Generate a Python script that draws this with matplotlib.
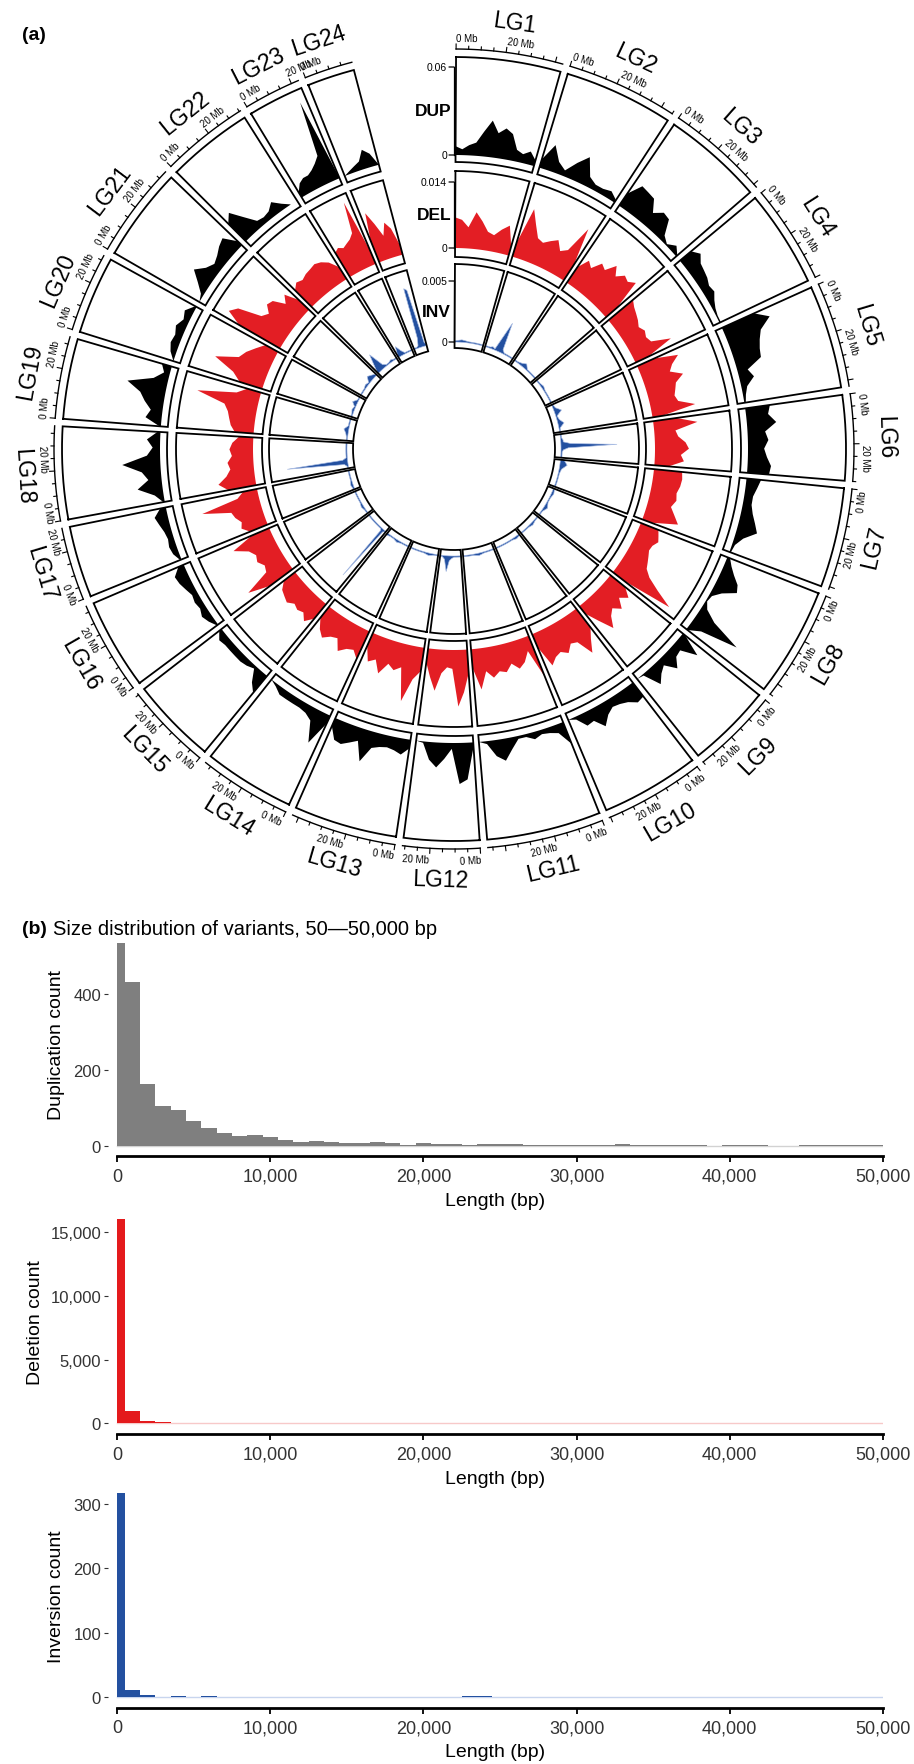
import numpy as np
import matplotlib.pyplot as plt
from matplotlib.ticker import FuncFormatter

plt.rcParams['font.family'] = ['Liberation Sans', 'DejaVu Sans']
NARROW = ['Liberation Sans Narrow', 'Liberation Sans', 'DejaVu Sans']

# ---------------- circos data (a) ----------------
chrom_names = ['LG1', 'LG2', 'LG3', 'LG4', 'LG5', 'LG6', 'LG7', 'LG8', 'LG9', 'LG10', 'LG11', 'LG12',
               'LG13', 'LG14', 'LG15', 'LG16', 'LG17', 'LG18', 'LG19', 'LG20', 'LG21', 'LG22', 'LG23', 'LG24']
chrom_len_mb = [43, 45, 41.5, 40, 42.5, 35, 41, 45, 35, 40.5, 47, 31,
                42.5, 37.5, 35.5, 37.5, 29.5, 38, 33, 32, 38.5, 35.5, 23, 19.5]

# densities along each chromosome (evenly spaced windows, start -> end)
dup_density = [
    [0.006, 0.004, 0.007, 0.009, 0.017, 0.025, 0.017, 0.021, 0.018, 0.008, 0.006, 0.009, 0.004],
    [0.006, 0.018, 0.008, 0.004, 0.012, 0.019, 0.007, 0.004, 0.004, 0.0055, 0.002],
    [0.010, 0.020, 0.019, 0.018, 0.010, 0.015, 0.014, 0.004, 0.001, 0.005, 0.001],
    [0.010, 0.014, 0.010, 0.009, 0.008, 0.006, 0.007, 0.004, 0.002, 0.001, 0.001],
    [0.024, 0.033, 0.024, 0.021, 0.019, 0.018, 0.007, 0.010, 0.004, 0.002, 0.001],
    [0.017, 0.015, 0.020, 0.012, 0.014, 0.011, 0.013, 0.016, 0.015],
    [0.010, 0.008, 0.006, 0.006, 0.008, 0.011, 0.014, 0.006, 0.002, 0.001],
    [0.002, 0.005, 0.009, 0.014, 0.016, 0.007, 0.002, 0.001, 0.004, 0.013, 0.035, 0.009, 0.001],
    [0.002, 0.017, 0.006, 0.007, 0.013, 0.005, 0.008, 0.013, 0.001, 0.0],
    [0.012, 0.013, 0.009, 0.007, 0.006, 0.009, 0.015, 0.008, 0.009, 0.002, 0.0],
    [0.016, 0.006, 0.004, 0.003, 0.005, 0.002, 0.002, 0.008, 0.015, 0.011, 0.002, 0.0],
    [0.003, 0.025, 0.028, 0.004, 0.011, 0.017, 0.012, 0.001, 0.0],
    [0.006, 0.011, 0.009, 0.008, 0.009, 0.011, 0.022, 0.009, 0.012, 0.015, 0.014, 0.006],
    [0.006, 0.023, 0.009, 0.006, 0.005, 0.005, 0.005, 0.005, 0.002, 0.0],
    [0.015, 0.010, 0.002, 0.004, 0.005, 0.005, 0.005, 0.005, 0.006, 0.002],
    [0.001, 0.004, 0.006, 0.004, 0.005, 0.004, 0.006, 0.008, 0.009, 0.004],
    [0.001, 0.004, 0.005, 0.004, 0.005, 0.007, 0.009, 0.004],
    [0.001, 0.006, 0.017, 0.009, 0.013, 0.026, 0.009, 0.005, 0.009, 0.002],
    [0.001, 0.011, 0.008, 0.013, 0.017, 0.027, 0.010, 0.004, 0.007],
    [0.0, 0.004, 0.006, 0.005, 0.007, 0.004, 0.006, 0.001],
    [0.0, 0.002, 0.008, 0.015, 0.009, 0.006, 0.008, 0.011, 0.013, 0.004],
    [0.017, 0.022, 0.013, 0.005, 0.004, 0.005, 0.009, 0.004, 0.0, 0.0],
    [0.004, 0.009, 0.011, 0.011, 0.013, 0.016, 0.020, 0.058, 0.002],
    [0.0, 0.002, 0.004, 0.006, 0.013, 0.009, 0.0],
]

del_density = [
    [0.0065, 0.006, 0.0045, 0.0078, 0.006, 0.004, 0.0035, 0.005, 0.0062, 0.002],
    [0.003, 0.011, 0.008, 0.0055, 0.005, 0.006, 0.0069, 0.005, 0.006, 0.012, 0.004],
    [0.004, 0.0065, 0.0055, 0.0077, 0.007, 0.0093, 0.0075, 0.009, 0.0085, 0.0096, 0.003],
    [0.0068, 0.006, 0.0055, 0.005, 0.0043, 0.005, 0.0045, 0.005, 0.009, 0.003],
    [0.004, 0.0089, 0.007, 0.006, 0.0085, 0.0065, 0.006, 0.0055, 0.006, 0.0094, 0.002],
    [0.005, 0.0093, 0.0045, 0.005, 0.0065, 0.0072, 0.0055, 0.0062, 0.003],
    [0.006, 0.0062, 0.006, 0.0055, 0.0058, 0.005, 0.0062, 0.0075, 0.002],
    [0.004, 0.0045, 0.005, 0.0042, 0.004, 0.0045, 0.005, 0.0055, 0.007, 0.010, 0.014, 0.003],
    [0.004, 0.006, 0.0045, 0.0065, 0.005, 0.006, 0.0082, 0.005, 0.002],
    [0.005, 0.007, 0.0096, 0.006, 0.0055, 0.007, 0.006, 0.0065, 0.0078, 0.003],
    [0.0095, 0.003, 0.005, 0.006, 0.0045, 0.006, 0.0055, 0.0066, 0.005, 0.0087, 0.004],
    [0.005, 0.009, 0.012, 0.004, 0.0037, 0.005, 0.0088, 0.006, 0.003],
    [0.005, 0.007, 0.012, 0.005, 0.006, 0.005, 0.0076, 0.005, 0.006, 0.003],
    [0.0065, 0.005, 0.0055, 0.0068, 0.0045, 0.005, 0.0062, 0.005, 0.003],
    [0.004, 0.0058, 0.0045, 0.005, 0.0045, 0.0055, 0.005, 0.0045, 0.003],
    [0.006, 0.0106, 0.005, 0.0045, 0.0055, 0.005, 0.006, 0.0089, 0.004],
    [0.004, 0.0055, 0.005, 0.006, 0.0065, 0.0125, 0.0045, 0.003],
    [0.006, 0.0079, 0.006, 0.005, 0.0055, 0.0045, 0.005, 0.0044, 0.003],
    [0.004, 0.005, 0.0055, 0.006, 0.007, 0.0132, 0.005, 0.003],
    [0.005, 0.007, 0.0117, 0.007, 0.006, 0.0045, 0.003],
    [0.010, 0.0134, 0.012, 0.007, 0.006, 0.0075, 0.007, 0.0045, 0.006, 0.003],
    [0.005, 0.006, 0.0055, 0.006, 0.0062, 0.0065, 0.006, 0.005, 0.003],
    [0.006, 0.0066, 0.006, 0.0065, 0.007, 0.008, 0.0146, 0.003],
    [0.005, 0.0108, 0.008, 0.005, 0.0076, 0.006, 0.002],
]

inv_density = [
    [0.0001, 0.0002, 0.0001, 0.0001, 0.0001],
    [0.0001, 0.0001, 0.0001, 0.0002, 0.0001, 0.0012, 0.0026, 0.0003, 0.0001, 0.0001, 0.0001, 0.0001, 0.0001],
    [0.0001, 0.0001, 0.0002, 0.0004, 0.0001, 0.0001, 0.0001, 0.0001],
    [0.0001, 0.0001, 0.0002, 0.0001, 0.0001, 0.0001, 0.0001],
    [0.0001, 0.0002, 0.0006, 0.0001, 0.0002, 0.0005, 0.0001, 0.0001],
    [0.0001, 0.0001, 0.0001, 0.0002, 0.0002, 0.0008, 0.0046, 0.0006, 0.0002, 0.0001, 0.0001, 0.0001, 0.0001],
    [0.0003, 0.0006, 0.0002, 0.0001, 0.0001, 0.0001, 0.0001],
    [0.0001, 0.0002, 0.0001, 0.0001, 0.0003, 0.0001, 0.0001],
    [0.0001, 0.0001, 0.0002, 0.0001, 0.0001, 0.0001],
    [0.0001, 0.0002, 0.0001, 0.0001, 0.0001, 0.0001, 0.0001],
    [0.0001, 0.0001, 0.0001, 0.0002, 0.0001, 0.0001, 0.0001],
    [0.0001, 0.0001, 0.0001, 0.0001, 0.0002, 0.0004, 0.0013, 0.0003, 0.0001, 0.0001],
    [0.0001, 0.0001, 0.0002, 0.0001, 0.0001, 0.0001, 0.0001],
    [0.0001, 0.0001, 0.0001, 0.0002, 0.0001, 0.0001, 0.0002],
    [0.0001, 0.0001, 0.0002, 0.005, 0.0002, 0.0001, 0.0001, 0.0001, 0.0001, 0.0001, 0.0001,
     0.0001, 0.0001, 0.0001, 0.0001, 0.0001, 0.0001, 0.0001, 0.0001, 0.0001, 0.0001],
    [0.0001, 0.0001, 0.0002, 0.0001, 0.0001, 0.0001, 0.0001],
    [0.0001, 0.0002, 0.0001, 0.0001, 0.0001],
    [0.0001, 0.0001, 0.0003, 0.005, 0.0004, 0.0001, 0.0001, 0.0001, 0.0001, 0.0001, 0.0001, 0.0001, 0.0001],
    [0.0001, 0.0001, 0.0002, 0.0004, 0.0001, 0.0001, 0.0001],
    [0.0001, 0.0001, 0.0002, 0.0001, 0.0004, 0.0001, 0.0001],
    [0.0001, 0.0001, 0.0001, 0.0002, 0.0001, 0.0005, 0.0003, 0.0001],
    [0.0001, 0.0008, 0.0016, 0.0003, 0.0001, 0.0001, 0.0002, 0.0001, 0.0001],
    [0.0001, 0.0009, 0.0004, 0.0001, 0.0001, 0.0001, 0.0001],
    [0.0001, 0.0001, 0.0001, 0.0002, 0.0008, 0.005, 0.0048, 0.0003, 0.0001],
]

# ---------------- size distribution data (b) ----------------
bin_center_bp = np.arange(0, 50001, 1000)
dup_counts = [535, 432, 163, 104, 95, 66, 48, 35, 25, 28, 22, 15, 10, 12, 11, 7, 7, 11, 7, 3,
              8, 4, 4, 3, 4, 4, 4, 2, 2, 2, 2, 1, 2, 5, 3, 3, 3, 2, 2, 0,
              2, 2, 1, 0, 0, 1, 1, 2, 1, 3, 3]
del_counts = [16000, 950, 210, 80, 60, 45, 35, 30, 25, 20, 22, 18, 15, 15, 12, 10, 8, 8, 7, 6,
              10, 6, 5, 5, 4, 4, 4, 3, 3, 3, 3, 3, 2, 2, 2, 2, 2, 2, 2, 2,
              2, 1, 1, 1, 1, 1, 1, 1, 1, 1, 1]
inv_counts = [317, 12, 3, 0, 2, 1, 2, 0, 1, 0, 1, 0, 1, 0, 0, 0, 1, 0, 0, 0,
              0, 0, 1, 2, 2, 0, 0, 0, 0, 0, 0, 0, 0, 0, 0, 0, 0, 0, 0, 0,
              0, 0, 0, 0, 0, 0, 0, 0, 0, 0, 0]

DUP_C, DEL_C, INV_C = '#000000', '#e31e24', '#2350a0'

W, H = 914, 1765
fig = plt.figure(figsize=(W / 100, H / 100), dpi=100)

# ---------------- (a) circos ----------------
CX, CY, R = 454, 450, 450
ax = fig.add_axes([(CX - R) / W, (H - CY - R) / H, 2 * R / W, 2 * R / H], projection='polar')
ax.set_theta_zero_location('N')
ax.set_theta_direction(-1)
ax.set_axis_off()

START, END, GAP = 0.3, 345.2, 1.1
deg_per_mb = (END - START - GAP * (len(chrom_len_mb) - 1)) / sum(chrom_len_mb)
starts = []
a = START
for L in chrom_len_mb:
    starts.append(a)
    a += L * deg_per_mb + GAP

tracks = [
    dict(data=dup_density, vmax=0.06, box=(287, 392), scale=(294, 382), color=DUP_C,
         edge=None, name='DUP', top='0.06'),
    dict(data=del_density, vmax=0.014, box=(192, 278), scale=(201, 267), color=DEL_C,
         edge=None, name='DEL', top='0.014'),
    dict(data=inv_density, vmax=0.005, box=(101, 185), scale=(107, 168), color=INV_C,
         edge='#a9bce3', name='INV', top='0.005'),
]
TICK_R = 400


def tangent(theta):
    t = theta % 360
    flip = 90 < t < 270
    return flip, (180 - theta if flip else -theta)


for i, name in enumerate(chrom_names):
    t0 = starts[i]
    t1 = t0 + chrom_len_mb[i] * deg_per_mb
    arc = np.radians(np.linspace(t0, t1, 80))

    for tr in tracks:
        r_in, r_out = tr['box']
        s0, s1 = tr['scale']
        vals = np.array(tr['data'][i])
        th = np.radians(np.linspace(t0, t1, len(vals)))
        rr = s0 + vals / tr['vmax'] * (s1 - s0)
        base = arc[::-1]
        kw = dict(color=tr['color'], lw=0)
        if tr['edge']:
            kw = dict(facecolor=tr['color'], edgecolor=tr['edge'], lw=0.45)
        ax.fill(np.r_[th, base], np.r_[rr, np.full(len(base), s0)], zorder=2, **kw)
        # box outline
        ax.plot(np.r_[arc, arc[::-1], arc[:1]],
                np.r_[np.full(len(arc), r_out), np.full(len(arc), r_in), [r_out]],
                color='black', lw=1.3, solid_joinstyle='miter', zorder=3)

    # ideogram scale
    ax.plot(arc, np.full(len(arc), TICK_R), color='black', lw=1.0, zorder=3)
    for mb in np.arange(0, chrom_len_mb[i] + 0.01, 5):
        tt = t0 + mb * deg_per_mb
        major = mb % 20 == 0
        ax.plot([np.radians(tt)] * 2, [TICK_R, TICK_R + (5 if major else 3)],
                color='black', lw=0.8, zorder=3)
        if mb in (0, 20):
            flip, rot = tangent(tt)
            ax.text(np.radians(tt), TICK_R + 6, '%d Mb' % mb, fontsize=7, rotation=rot,
                    rotation_mode='anchor', ha='right' if flip else 'left',
                    va='top' if flip else 'bottom')
    mid = (t0 + t1) / 2
    flip, rot = tangent(mid)
    ax.text(np.radians(mid), 431, name, fontsize=16.5, rotation=rot, rotation_mode='anchor',
            ha='center', va='center')

# value axis in the gap
for tr in tracks:
    s0, s1 = tr['scale']
    ax.plot([0, 0], [s0, s1], color='black', lw=0.9, zorder=3)
    for rv, lab in ((s0, '0'), (s1, tr['top'])):
        ax.annotate('', xy=(0, rv), xytext=(-5, 0), textcoords='offset pixels',
                    arrowprops=dict(arrowstyle='-', lw=0.9, color='black', shrinkA=0, shrinkB=0))
        ax.annotate(lab, xy=(0, rv), xytext=(-7, 0), textcoords='offset pixels',
                    ha='right', va='center', fontsize=7.5)
    ax.annotate(tr['name'], xy=(0, (s0 + s1) / 2), xytext=(-3, 0), textcoords='offset pixels',
                ha='right', va='center', fontsize=12.5, fontweight='bold')

ax.set_ylim(0, R)

fig.text(22 / W, 1 - 35 / H, '(a)', fontsize=14, fontweight='bold', va='center')

# ---------------- (b) size distributions ----------------
fig.text(22 / W, 1 - 930 / H, '(b)', fontsize=14, fontweight='bold', va='center')
fig.text(53 / W, 1 - 930 / H, 'Size distribution of variants, 50\u201450,000 bp', fontsize=14.5, va='center')

left_edge = np.clip(bin_center_bp - 500, 0, 50000)
right_edge = np.clip(bin_center_bp + 500, 0, 50000)

panels = [
    (dup_counts, '#7f7f7f', '#d2d2d2', 'Duplication count', (-27, 562), [0, 200, 400], 1157, 934, -0.055),
    (del_counts, '#e41a1c', '#f7c9c9', 'Deletion count', (-840, 16800), [0, 5000, 10000, 15000], 1435, 1210, -0.082),
    (inv_counts, '#2350a0', '#c8d5ee', 'Inversion count', (-16, 333), [0, 100, 200, 300], 1708.6, 1483.8, -0.055),
]
PL, PR = 108, 883
comma = FuncFormatter(lambda v, p: '{:,}'.format(int(v)))
for counts, col, light, ylab, ylim, yt, bot, top, labx in panels:
    hx = fig.add_axes([PL / W, 1 - bot / H, (PR - PL) / W, (bot - top) / H])
    hx.plot([0, 50000], [0, 0], color=light, lw=1.0, zorder=1)
    hx.bar(left_edge, counts, width=right_edge - left_edge, align='edge', color=col, lw=0, zorder=2)
    hx.set_xlim(-590, 50000)
    hx.set_ylim(*ylim)
    for s in ('left', 'top', 'right'):
        hx.spines[s].set_visible(False)
    hx.spines['bottom'].set_linewidth(2)
    hx.spines['bottom'].set_bounds(0, 50000)
    hx.set_xticks([0, 10000, 20000, 30000, 40000, 50000])
    hx.set_yticks(yt)
    hx.xaxis.set_major_formatter(comma)
    hx.yaxis.set_major_formatter(comma)
    hx.tick_params(axis='x', length=4.5, width=1.3, pad=4, labelsize=13, labelcolor='#333333')
    hx.tick_params(axis='y', length=3, width=0.8, color='#333333', pad=2, labelsize=12,
                   labelcolor='#333333')
    for lab in hx.get_xticklabels() + hx.get_yticklabels():
        lab.set_family(NARROW)
    hx.set_xlabel('Length (bp)', fontsize=14, family=NARROW, labelpad=5)
    hx.set_ylabel(ylab, fontsize=14)
    hx.yaxis.set_label_coords(labx, 0.5)
    hx.patch.set_alpha(0)

fig.savefig('out.png', dpi=100)
